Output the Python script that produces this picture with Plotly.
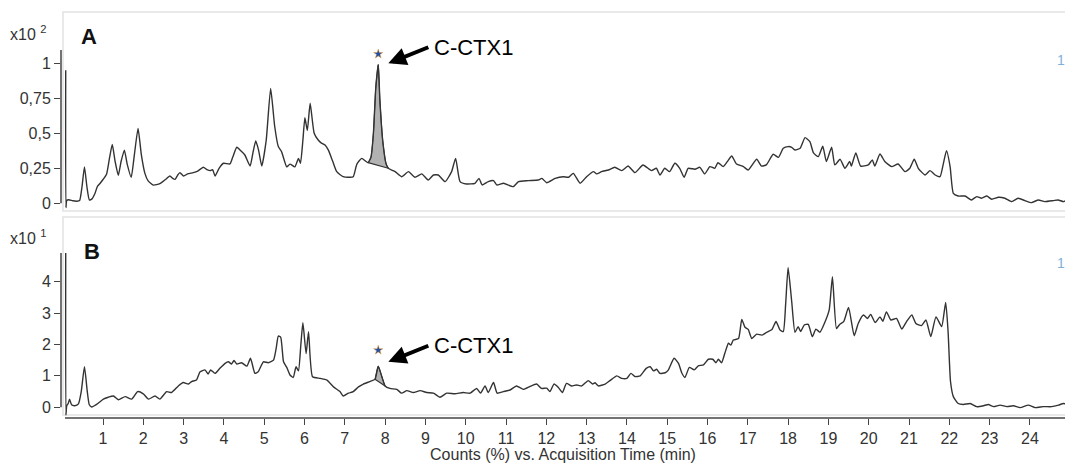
import plotly.graph_objects as go

# ---------------- data ----------------
time_a = [0.075, 0.08, 0.1, 0.15, 0.25, 0.35, 0.42, 0.48, 0.54, 0.6, 0.66, 0.72, 0.8, 0.86, 0.92, 1.0,
          1.09, 1.16, 1.23, 1.3, 1.38, 1.45, 1.53, 1.6, 1.7, 1.78, 1.87, 1.95, 2.04, 2.12, 2.25, 2.41,
          2.55, 2.66, 2.72, 2.79, 2.85, 2.91, 3.0, 3.1, 3.24, 3.35, 3.49, 3.58, 3.66, 3.72, 3.78, 3.88,
          3.99, 4.15, 4.22, 4.32, 4.42, 4.52, 4.65, 4.72, 4.79, 4.86, 4.94, 5.05, 5.16, 5.26, 5.35, 5.43,
          5.56, 5.64, 5.76, 5.85, 5.9, 5.96, 6.01, 6.07, 6.14, 6.24, 6.34, 6.42, 6.51, 6.59, 6.7, 6.8,
          6.96, 7.13, 7.21, 7.3, 7.42, 7.52, 7.58, 7.65, 7.71, 7.77, 7.83, 7.87, 7.94, 8.02, 8.08, 8.2,
          8.25, 8.41, 8.58, 8.74, 8.91, 9.07, 9.2, 9.32, 9.49, 9.65, 9.75, 9.86, 10.02, 10.23, 10.33,
          10.41, 10.56, 10.69, 10.77, 10.94, 11.18, 11.31, 11.55, 11.8, 11.89, 12.01, 12.22, 12.42,
          12.55, 12.67, 12.84, 13.0, 13.17, 13.25, 13.37, 13.54, 13.7, 13.87, 14.03, 14.2, 14.4, 14.61,
          14.73, 14.82, 14.94, 15.06, 15.19, 15.31, 15.42, 15.52, 15.69, 15.81, 15.93, 16.06, 16.18,
          16.26, 16.39, 16.51, 16.6, 16.72, 16.89, 17.01, 17.22, 17.34, 17.46, 17.63, 17.76, 17.88,
          18.0, 18.09, 18.17, 18.3, 18.42, 18.54, 18.63, 18.75, 18.86, 18.95, 19.08, 19.16, 19.29,
          19.41, 19.53, 19.57, 19.68, 19.8, 19.99, 20.09, 20.15, 20.28, 20.4, 20.57, 20.73, 20.9, 21.02,
          21.13, 21.23, 21.4, 21.52, 21.65, 21.77, 21.85, 21.93, 22.02, 22.1, 22.22, 22.39, 22.55,
          22.68, 22.8, 22.93, 23.05, 23.22, 23.38, 23.55, 23.71, 23.88, 24.04, 24.21, 24.37, 24.58,
          24.7, 24.83, 24.9]
counts_a = [0.95, -0.03, 0.02, 0.025, 0.018, 0.015, 0.02, 0.12, 0.26, 0.12, 0.025, 0.03, 0.07, 0.12, 0.14, 0.17,
            0.21, 0.32, 0.42, 0.3, 0.2, 0.3, 0.38, 0.28, 0.186, 0.35, 0.535, 0.35, 0.214, 0.16, 0.13, 0.14,
            0.17, 0.195, 0.18, 0.171, 0.2, 0.219, 0.195, 0.21, 0.219, 0.23, 0.257, 0.24, 0.233, 0.24, 0.195, 0.25,
            0.286, 0.281, 0.33, 0.4, 0.375, 0.345, 0.266, 0.36, 0.445, 0.38, 0.266, 0.45, 0.82, 0.55, 0.405, 0.369,
            0.26, 0.28, 0.26, 0.32, 0.286, 0.45, 0.612, 0.519, 0.714, 0.5, 0.452, 0.43, 0.416, 0.381, 0.3, 0.226,
            0.19, 0.186, 0.19, 0.28, 0.321, 0.3, 0.29, 0.33, 0.5, 0.83, 0.99, 0.74, 0.45, 0.286, 0.25, 0.233,
            0.226, 0.19, 0.226, 0.186, 0.21, 0.166, 0.202, 0.202, 0.155, 0.226, 0.321, 0.155, 0.138, 0.143, 0.178,
            0.131, 0.155, 0.162, 0.131, 0.143, 0.119, 0.155, 0.162, 0.166, 0.178, 0.147, 0.178, 0.19,
            0.186, 0.214, 0.143, 0.19, 0.226, 0.21, 0.226, 0.238, 0.257, 0.233, 0.266, 0.219, 0.274, 0.233,
            0.25, 0.202, 0.25, 0.226, 0.286, 0.25, 0.186, 0.25, 0.243, 0.257, 0.21, 0.262, 0.25,
            0.29, 0.262, 0.305, 0.338, 0.281, 0.262, 0.238, 0.314, 0.266, 0.274, 0.35, 0.328, 0.393,
            0.405, 0.4, 0.381, 0.393, 0.469, 0.44, 0.36, 0.333, 0.407, 0.298, 0.4, 0.274, 0.314,
            0.25, 0.298, 0.266, 0.36, 0.266, 0.274, 0.31, 0.266, 0.352, 0.298, 0.262, 0.281, 0.226, 0.25,
            0.314, 0.25, 0.202, 0.233, 0.202, 0.19, 0.28, 0.376, 0.262, 0.071, 0.052, 0.052, 0.024,
            0.048, 0.036, 0.052, 0.029, 0.043, 0.036, 0.012, 0.036, 0.019, 0.005, 0.024, 0.012, 0.019,
            0.024, 0.012, 0.02]

time_b = [0.075, 0.08, 0.1, 0.14, 0.17, 0.22, 0.3, 0.39, 0.46, 0.54, 0.61, 0.66, 0.72, 0.8, 0.88, 1.01,
          1.13, 1.26, 1.38, 1.55, 1.71, 1.86, 2.0, 2.13, 2.29, 2.41, 2.58, 2.7, 2.87, 2.99, 3.12, 3.2,
          3.32, 3.41, 3.53, 3.61, 3.67, 3.78, 3.9, 4.03, 4.11, 4.19, 4.25, 4.32, 4.44, 4.57, 4.66, 4.77,
          4.85, 4.98, 5.1, 5.23, 5.3, 5.35, 5.41, 5.48, 5.56, 5.64, 5.72, 5.79, 5.85, 5.91, 5.96, 6.04,
          6.1, 6.2, 6.39, 6.55, 6.72, 6.88, 6.96, 7.09, 7.21, 7.34, 7.46, 7.62, 7.75, 7.83, 7.92, 8.0,
          8.12, 8.29, 8.41, 8.54, 8.7, 8.87, 9.03, 9.2, 9.36, 9.53, 9.73, 9.94, 10.11, 10.27, 10.37,
          10.48, 10.56, 10.69, 10.78, 10.93, 11.1, 11.26, 11.43, 11.59, 11.76, 11.88, 12.01, 12.09,
          12.19, 12.3, 12.4, 12.5, 12.63, 12.75, 12.88, 13.04, 13.15, 13.21, 13.29, 13.46, 13.58,
          13.75, 13.87, 14.0, 14.1, 14.2, 14.33, 14.48, 14.58, 14.66, 14.74, 14.82, 14.95, 15.03,
          15.17, 15.28, 15.36, 15.44, 15.55, 15.67, 15.77, 15.9, 16.02, 16.13, 16.21, 16.27, 16.35,
          16.43, 16.52, 16.58, 16.64, 16.77, 16.85, 16.93, 17.01, 17.1, 17.22, 17.35, 17.47, 17.6,
          17.7, 17.8, 17.88, 17.94, 18.0, 18.09, 18.17, 18.25, 18.31, 18.4, 18.5, 18.6, 18.69, 18.79,
          18.92, 19.02, 19.1, 19.2, 19.28, 19.38, 19.5, 19.64, 19.74, 19.87, 19.97, 20.05, 20.16,
          20.28, 20.35, 20.44, 20.55, 20.69, 20.82, 20.94, 21.07, 21.17, 21.31, 21.42, 21.54, 21.67,
          21.81, 21.91, 21.97, 22.03, 22.1, 22.22, 22.35, 22.52, 22.68, 22.85, 22.97, 23.1, 23.26,
          23.43, 23.59, 23.76, 23.96, 24.13, 24.33, 24.54, 24.71, 24.83, 24.9]
counts_b = [4.91, -0.25, 0.05, 0.127, 0.26, 0.08, 0.05, 0.11, 0.5, 1.29, 0.5, 0.08, 0.01, 0.06, 0.13, 0.26,
            0.32, 0.36, 0.24, 0.34, 0.26, 0.5, 0.43, 0.26, 0.36, 0.26, 0.5, 0.47, 0.68, 0.79, 0.74, 0.82,
            0.87, 1.13, 1.19, 1.06, 1.19, 1.08, 1.24, 1.4, 1.45, 1.38, 1.49, 1.38, 1.42, 1.31, 1.56, 1.08,
            1.13, 1.45, 1.42, 1.5, 1.9, 2.27, 2.23, 1.45, 1.27, 1.03, 0.95, 1.29, 1.16, 2.0, 2.69, 1.71,
            2.41, 0.97, 0.92, 0.87, 0.65, 0.5, 0.36, 0.45, 0.5, 0.65, 0.74, 0.82, 0.89, 1.31, 0.97, 0.68,
            0.6, 0.57, 0.45, 0.53, 0.47, 0.53, 0.47, 0.45, 0.32, 0.45, 0.43, 0.47, 0.45, 0.6, 0.45,
            0.68, 0.47, 0.79, 0.45, 0.5, 0.55, 0.68, 0.57, 0.66, 0.74, 0.6, 0.61, 0.5,
            0.74, 0.63, 0.47, 0.76, 0.68, 0.71, 0.68, 0.85, 0.74, 0.78, 0.68, 0.74, 0.85,
            1.0, 0.92, 0.92, 1.08, 0.98, 1.0, 1.24, 1.29, 1.16, 1.21, 1.08, 1.1, 1.19,
            1.56, 1.4, 1.1, 0.95, 1.27, 1.19, 1.32, 1.35, 1.53, 1.53, 1.42, 1.53, 1.42,
            1.72, 2.04, 1.98, 2.14, 2.19, 2.8, 2.55, 2.48, 2.19, 2.33, 2.3, 2.39, 2.48,
            2.73, 2.46, 2.41, 3.3, 4.45, 3.36, 2.39, 2.57, 2.41, 2.62, 2.64, 2.25, 2.49, 2.39,
            2.73, 3.1, 4.16, 2.51, 2.64, 2.73, 3.18, 2.28, 2.67, 2.94, 2.83, 2.96, 2.7,
            2.88, 2.74, 3.04, 2.78, 2.83, 2.49, 2.73, 2.94, 2.67, 2.6, 2.78, 2.25, 2.88,
            2.57, 3.34, 2.41, 0.82, 0.34, 0.12, 0.09, 0.12, 0.02, 0.05, 0.09, 0.02, 0.07,
            0.02, 0.05, -0.01, 0.07, -0.01, 0.02, 0.02, 0.07, 0.12, 0.1]

# integrated C-CTX1 peak windows (start, end) in minutes
peak_window_a = [7.58, 8.08]
peak_window_b = [7.75, 8.0]
# marker (star) positions above the peaks
star_a = [7.83, 1.066]
star_b = [7.83, 1.82]
# arrow heads (time, counts)
arrow_a = [8.08, 1.0]
arrow_b = [8.08, 1.45]
label_text = "C-CTX1"

x_ticks = list(range(1, 25))
ya_ticks = [0, 0.25, 0.5, 0.75, 1]
ya_ticktext = ["0", "0,25", "0,5", "0,75", "1"]
yb_ticks = [0, 1, 2, 3, 4]
yb_ticktext = ["0", "1", "2", "3", "4"]

# ---------------- figure ----------------
FONT = "Liberation Sans, Arial, Helvetica, sans-serif"
LINE = "#333333"
AX = "#444444"
FRAME = "#e2e2e2"

fig = go.Figure()


def peak_poly(ts, vs, win):
    px = [t for t in ts if win[0] <= t <= win[1]]
    py = [v for t, v in zip(ts, vs) if win[0] <= t <= win[1]]
    return px, py


for ts, vs, win, yref in [(time_a, counts_a, peak_window_a, "y"), (time_b, counts_b, peak_window_b, "y2")]:
    px, py = peak_poly(ts, vs, win)
    fig.add_trace(go.Scatter(x=px, y=py, yaxis=yref, mode="lines", fill="toself",
                             fillcolor="#b2b2b2", line=dict(color=LINE, width=1, shape="spline", smoothing=0.5),
                             hoverinfo="skip", showlegend=False))
    fig.add_trace(go.Scatter(x=[px[0], px[-1]], y=[py[0], py[-1]], yaxis=yref, mode="lines",
                             line=dict(color=LINE, width=1.2), hoverinfo="skip", showlegend=False))

for ts, vs, yref in [(time_a, counts_a, "y"), (time_b, counts_b, "y2")]:
    fig.add_trace(go.Scatter(x=ts, y=vs, yaxis=yref, mode="lines",
                             line=dict(color=LINE, width=1.4, shape="spline", smoothing=0.5),
                             showlegend=False))

for st, yref in [(star_a, "y"), (star_b, "y2")]:
    fig.add_trace(go.Scatter(x=[st[0]], y=[st[1]], yaxis=yref, mode="markers",
                             marker=dict(symbol="star", size=7, color="#1f4fa8",
                                         line=dict(color="#f0a030", width=0.5)),
                             showlegend=False, hoverinfo="skip"))

W, H = 1065, 463
ML, MR, MT, MB = 61, 0, 12, 45
PW, PH = W - ML - MR, H - MT - MB


def px_x(p):
    return (p - ML) / PW


def px_y(p):
    return (H - MB - p) / PH


shapes = [
    # panel frames
    dict(type="rect", xref="paper", yref="y domain", x0=px_x(63), x1=1.01, y0=0, y1=1,
         line=dict(color=FRAME, width=1.5), layer="below"),
    dict(type="rect", xref="paper", yref="y2 domain", x0=px_x(63), x1=1.01, y0=0.015, y1=1,
         line=dict(color=FRAME, width=1.5), layer="below"),
    # y axis lines
    dict(type="line", xref="paper", yref="y", x0=0, x1=0, y0=0, y1=1.095,
         line=dict(color=AX, width=1.5)),
    dict(type="line", xref="paper", yref="y2", x0=0, x1=0, y0=0, y1=4.91,
         line=dict(color=AX, width=1.5)),
    # x axis line
    dict(type="line", xref="paper", yref="paper", x0=px_x(65), x1=1, y0=0, y1=0,
         line=dict(color=AX, width=1.5)),
]

annotations = [
    dict(text="x10 <sup>2</sup>", xref="paper", yref="paper", x=px_x(8), y=px_y(33),
         xanchor="left", yanchor="middle", showarrow=False, font=dict(family=FONT, size=16, color="#333")),
    dict(text="x10 <sup>1</sup>", xref="paper", yref="paper", x=px_x(8), y=px_y(237),
         xanchor="left", yanchor="middle", showarrow=False, font=dict(family=FONT, size=16, color="#333")),
    dict(text="<b>A</b>", xref="paper", yref="paper", x=px_x(79), y=px_y(36),
         xanchor="left", yanchor="middle", showarrow=False, font=dict(family=FONT, size=22, color="#111")),
    dict(text="<b>B</b>", xref="paper", yref="paper", x=px_x(82), y=px_y(251),
         xanchor="left", yanchor="middle", showarrow=False, font=dict(family=FONT, size=22, color="#111")),
    dict(text="1", xref="paper", yref="paper", x=px_x(1055), y=px_y(60),
         xanchor="left", yanchor="middle", showarrow=False, font=dict(family=FONT, size=14, color="#7fb0d8")),
    dict(text="1", xref="paper", yref="paper", x=px_x(1055), y=px_y(263),
         xanchor="left", yanchor="middle", showarrow=False, font=dict(family=FONT, size=14, color="#7fb0d8")),
]

for head, yref in [(arrow_a, "y"), (arrow_b, "y2")]:
    annotations.append(dict(x=head[0], y=head[1], xref="x", yref=yref, text=label_text,
                            showarrow=True, ax=40, ay=-16, xanchor="left", yanchor="middle",
                            borderpad=5, arrowhead=2, arrowsize=0.9, arrowwidth=4,
                            arrowcolor="#000", standoff=0,
                            font=dict(family=FONT, size=22, color="#000")))

fig.update_layout(
    width=W, height=H,
    margin=dict(l=ML, r=MR, t=MT, b=MB),
    paper_bgcolor="white", plot_bgcolor="white",
    font=dict(family=FONT, color="#333"),
    showlegend=False,
    shapes=shapes,
    annotations=annotations,
    xaxis=dict(range=[(ML - 62.7) / 40.3, (W - 62.7) / 40.3], anchor="y2",
               tickvals=x_ticks, ticktext=[str(v) for v in x_ticks],
               ticks="outside", ticklen=6, tickwidth=1.2, tickcolor=AX,
               showline=False, showgrid=False, zeroline=False,
               tickfont=dict(family=FONT, size=16, color="#333"),
               title=dict(text="Counts (%) vs. Acquisition Time (min)", standoff=2,
                          font=dict(family=FONT, size=16, color="#333"))),
    yaxis=dict(domain=[px_y(211), 1], range=[-0.055, 1.366],
               tickvals=ya_ticks, ticktext=ya_ticktext,
               ticks="outside", ticklen=6, tickwidth=1.2, tickcolor=AX,
               showline=False, showgrid=False, zeroline=False,
               tickfont=dict(family=FONT, size=16, color="#333")),
    yaxis2=dict(domain=[0, px_y(217)], range=[-0.341, 6.06],
                tickvals=yb_ticks, ticktext=yb_ticktext,
                ticks="outside", ticklen=6, tickwidth=1.2, tickcolor=AX,
                showline=False, showgrid=False, zeroline=False,
                tickfont=dict(family=FONT, size=16, color="#333")),
)

fig.write_html("out.html")
